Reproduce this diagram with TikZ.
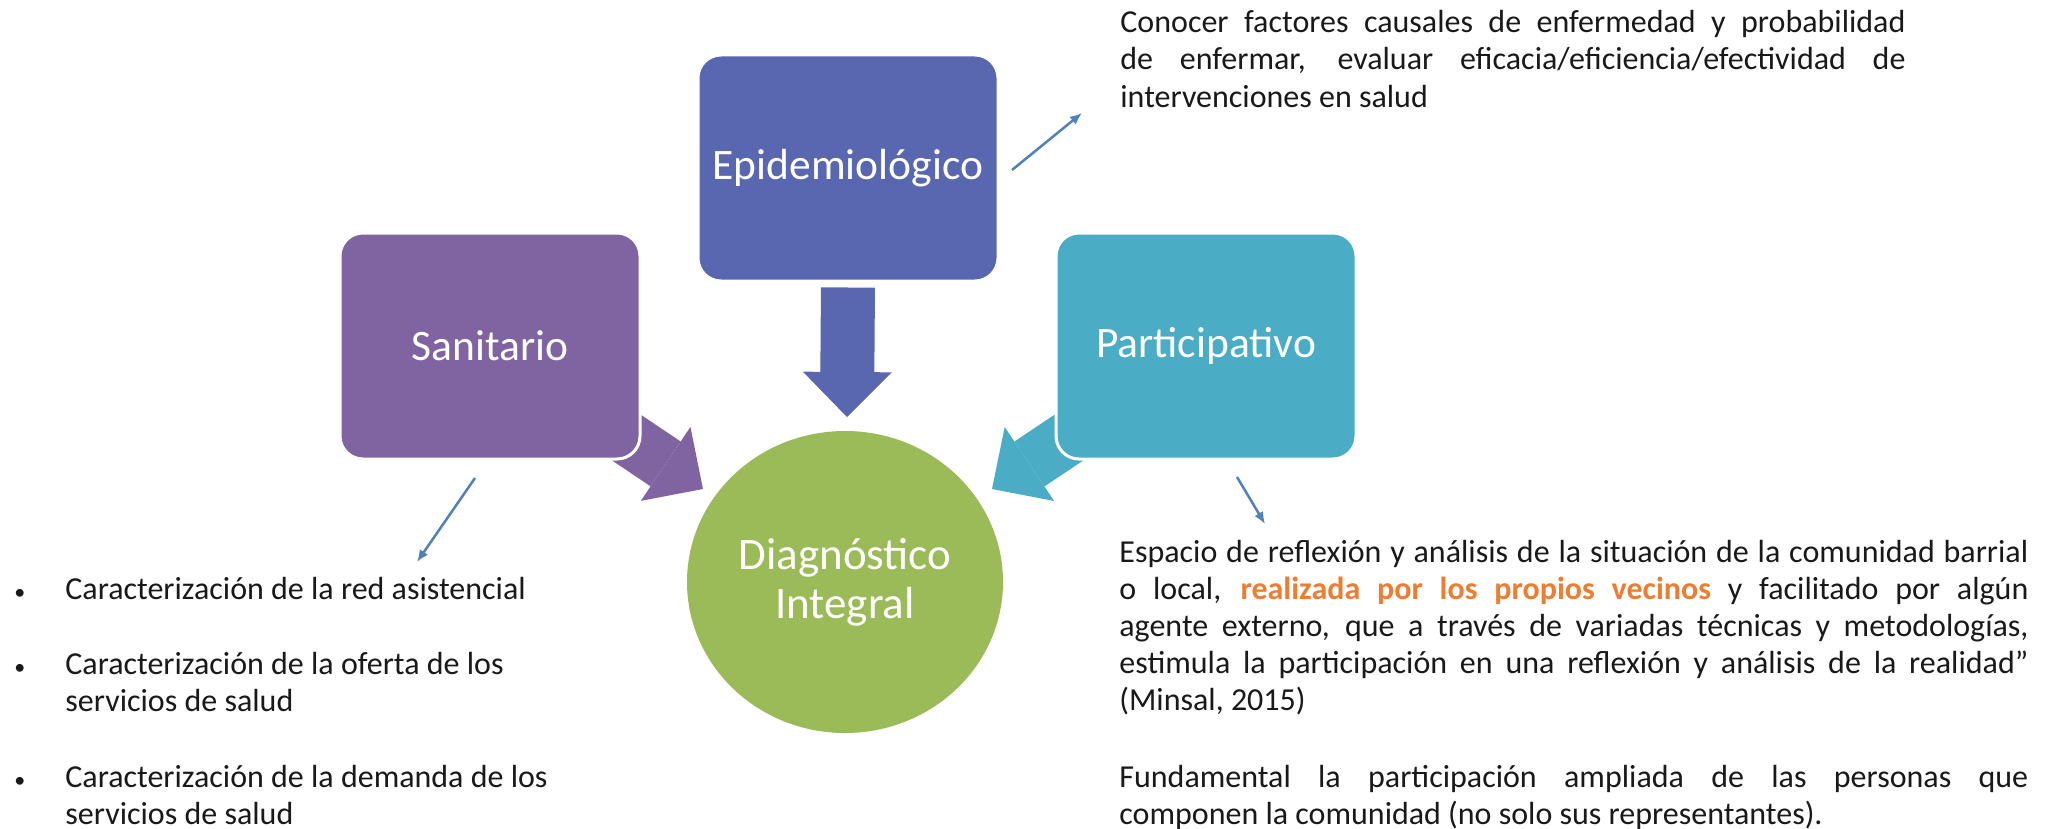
\documentclass[tikz,border=0pt]{standalone}
\usepackage{fontspec}
\setmainfont{Carlito}
\usetikzlibrary{arrows.meta,shapes.geometric}
\definecolor{sanc}{RGB}{128,100,162}
\definecolor{epic}{RGB}{89,103,177}
\definecolor{parc}{RGB}{75,172,198}
\definecolor{diac}{RGB}{155,187,89}
\definecolor{thinc}{RGB}{79,129,189}
\definecolor{orangec}{RGB}{237,125,49}
\definecolor{txtc}{RGB}{25,25,25}
\newcommand{\normsp}{\spaceskip=0pt\xspaceskip=0pt\relax}
\newcommand{\bul}{\makebox[26.5pt][l]{\hspace{1pt}\fontsize{11}{11}\selectfont\textbullet}}
\pgfdeclarelayer{bg}
\pgfsetlayers{bg,main}
\begin{document}
\begin{tikzpicture}[x=0.5pt,y=-0.5pt,
  box/.style={rounded corners=11.5pt, minimum width=150pt, minimum height=113pt,
    draw=white, line width=1.5pt, text=white, inner sep=0pt,
    font=\fontsize{21.75}{26}\selectfont},
  bigarrow/.style={line width=27pt, -{Triangle[width=44.5pt,length=22.5pt,line width=0pt]}},
  thinarrow/.style={draw=thinc, line width=1.25pt, -{Latex[length=6pt,width=5pt]}},
  body/.style={font=\fontsize{16}{18.5}\selectfont, text=txtc, inner sep=0pt,
    anchor=base west, align=left},
]
\useasboundingbox (0,0) rectangle (2054,829);

% main boxes
\node[box, fill=sanc] (san) at (490,346) {Sanitario};
\node[box, fill=epic] (epi) at (848,168) {Epidemiológico};
\node[box, fill=parc] (par) at (1206,346) {Participativo};
\node[ellipse, fill=diac, minimum width=158pt, minimum height=151pt, inner sep=0pt,
  text=white, align=center, font=\fontsize{22.5}{24.5}\selectfont] (dia) at (845,582)
  {Diagnóstico\\Integral};

% arrow tips at the circle
\coordinate (tipS) at (703,489);
\coordinate (tipE) at (847,417);
\coordinate (tipP) at (992,489);

\begin{pgfonlayer}{bg}
\fill[white] (0,0) rectangle (2054,829);
\draw[bigarrow, draw=sanc, fill=sanc] (san.center) -- (tipS);
\draw[bigarrow, draw=epic, fill=epic, shorten <=2.5pt] (epi.south) -- (tipE);
\draw[bigarrow, draw=parc, fill=parc] (par.center) -- (tipP);
\end{pgfonlayer}

% thin arrows
\coordinate (eA) at (1012,170);
\coordinate (eB) at (1082,113);
\coordinate (sA) at (475,478);
\coordinate (sB) at (417,562);
\coordinate (pA) at (1237,477);
\coordinate (pB) at (1265,524);
\draw[thinarrow] (eA) -- (eB);
\draw[thinarrow] (sA) -- (sB);
\draw[thinarrow] (pA) -- (pB);

% epidemiologico text
\node[body, text width=392.5pt] (epitext) at (1120,33)
 {\normsp\makebox[392.5pt][s]{Conocer factores causales de enfermedad y probabilidad}\\
  \makebox[392.5pt][s]{de enfermar, evaluar eficacia/eficiencia/efectividad de}\\
  intervenciones en salud};

% sanitario list
\node[body, text width=300pt] (item1) at (12,599)
 {\normsp\bul Caracterización de la red asistencial};
\node[body, text width=300pt] (item2) at (12,674)
 {\normsp\bul Caracterización de la oferta de los\\
  \hspace*{26.5pt}servicios de salud};
\node[body, text width=300pt] (item3) at (12,787)
 {\normsp\bul Caracterización de la demanda de los\\
  \hspace*{26.5pt}servicios de salud};

% participativo text
\node[body, text width=454.5pt] (partext1) at (1119,562)
 {\normsp\makebox[454.5pt][s]{Espacio de reflexión y análisis de la situación de la comunidad barrial}\\
  \makebox[454.5pt][s]{o local, \textcolor{orangec}{\bfseries realizada por los propios vecinos} y facilitado por algún}\\
  \makebox[454.5pt][s]{agente externo, que a través de variadas técnicas y metodologías,}\\
  \makebox[454.5pt][s]{estimula la participación en una reflexión y análisis de la realidad”}\\
  (Minsal, 2015)};
\node[body, text width=454.5pt] (partext2) at (1119,787)
 {\normsp\makebox[454.5pt][s]{Fundamental la participación ampliada de las personas que}\\
  componen la comunidad (no solo sus representantes).};
\end{tikzpicture}
\end{document}
